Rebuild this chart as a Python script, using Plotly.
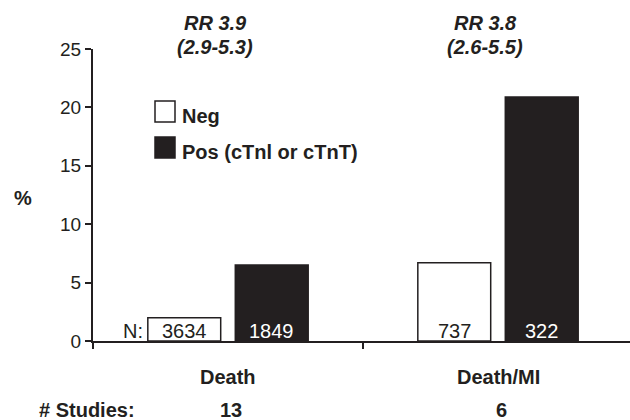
import plotly.graph_objects as go

categories = ["Death", "Death/MI"]
neg_pct = [2.0, 6.7]
pos_pct = [6.5, 20.9]
neg_n = [3634, 737]
pos_n = [1849, 322]
n_studies = ["13", "6"]
rr_text = ["RR 3.9", "RR 3.8"]
rr_ci = ["(2.9-5.3)", "(2.6-5.5)"]
y_ticks = [0, 5, 10, 15, 20, 25]

DARK = "#231f20"
FONT = "Liberation Sans, Arial, sans-serif"
W, H = 630, 420
ML, MR, MT, MB = 93, 0, 49, 79
PW, PH = W - ML - MR, H - MT - MB
CAT_PX = 270          # pixel width of one category
BAR_OFFSET = 43.75    # half of bar center spacing, px


def xp(px):
    return (px - ML) / PW


def yp(py):
    return (H - MB - py) / PH


fig = go.Figure()
fig.add_trace(go.Bar(
    x=categories, y=neg_pct, name="Neg",
    marker=dict(color="white", line=dict(color=DARK, width=1.5)),
    hoverinfo="skip",
))
fig.add_trace(go.Bar(
    x=categories, y=pos_pct, name="Pos (cTnl or cTnT)",
    marker=dict(color=DARK, line=dict(color=DARK, width=1.5)),
    hoverinfo="skip",
))


def note(text, x, y, xref="paper", yref="paper", xanchor="center", xshift=0, yshift=0,
         size=20, color=DARK):
    return dict(text=text, x=x, y=y, xref=xref, yref=yref, xanchor=xanchor,
                yanchor="middle", xshift=xshift, yshift=yshift, showarrow=False,
                font=dict(size=size, color=color))


ann = []
ann.append(note("<b>%</b>", xp(23), yp(198)))
for c, r, ci in zip(categories, rr_text, rr_ci):
    ann.append(note(f"<b><i>{r}</i></b>", c, yp(23), xref="x", xshift=-13))
    ann.append(note(f"<b><i>{ci}</i></b>", c, yp(47), xref="x", xshift=-13))
for c, s in zip(categories, n_studies):
    ann.append(note(f"<b>{c}</b>", c, yp(377), xref="x"))
    ann.append(note(f"<b>{s}</b>", c, yp(410), xref="x", xshift=3))
for c, nn, pn in zip(categories, neg_n, pos_n):
    ann.append(note(str(nn), c, 0, xref="x", yref="y", xshift=-BAR_OFFSET, yshift=10))
    ann.append(note(str(pn), c, 0, xref="x", yref="y", xshift=BAR_OFFSET, yshift=10, color="white"))
ann.append(note("<b># Studies:</b>", xp(87), yp(410)))
ann.append(note("N:", xp(145), yp(331), xanchor="right"))
ann.append(note("<b>Neg</b>", xp(180), yp(116), xanchor="left"))
ann.append(note("<b>Pos (cTnl or cTnT)</b>", xp(180), yp(152), xanchor="left"))

shapes = [
    dict(type="rect", xref="paper", yref="paper", x0=xp(155), x1=xp(175), y0=yp(122), y1=yp(101),
         fillcolor="white", line=dict(color=DARK, width=1.5)),
    dict(type="rect", xref="paper", yref="paper", x0=xp(155), x1=xp(175), y0=yp(158), y1=yp(137),
         fillcolor=DARK, line=dict(color=DARK, width=1.5)),
]

fig.update_layout(
    width=W, height=H,
    margin=dict(l=ML, r=MR, t=MT, b=MB, pad=0),
    paper_bgcolor="white", plot_bgcolor="white",
    font=dict(family=FONT, color=DARK, size=19),
    barmode="group", bargap=0.352, bargroupgap=0.167,
    showlegend=False,
    annotations=ann, shapes=shapes,
    xaxis=dict(type="category", range=[-0.5, -0.5 + PW / CAT_PX], tickson="boundaries",
               ticks="outside", ticklen=6, tickwidth=1.5, tickcolor=DARK,
               showticklabels=False, showline=True, linecolor=DARK, linewidth=2,
               showgrid=False, zeroline=False, fixedrange=True),
    yaxis=dict(range=[0, 25], tickvals=y_ticks, ticks="outside", ticklen=6, tickwidth=1.5,
               tickcolor=DARK, showline=True, linecolor=DARK, linewidth=2,
               showgrid=False, zeroline=False, tickfont=dict(size=19), fixedrange=True),
)

fig.write_html("out.html", config={"displayModeBar": False},
               post_script="document.body.style.margin='0';document.body.style.overflow='hidden';")
